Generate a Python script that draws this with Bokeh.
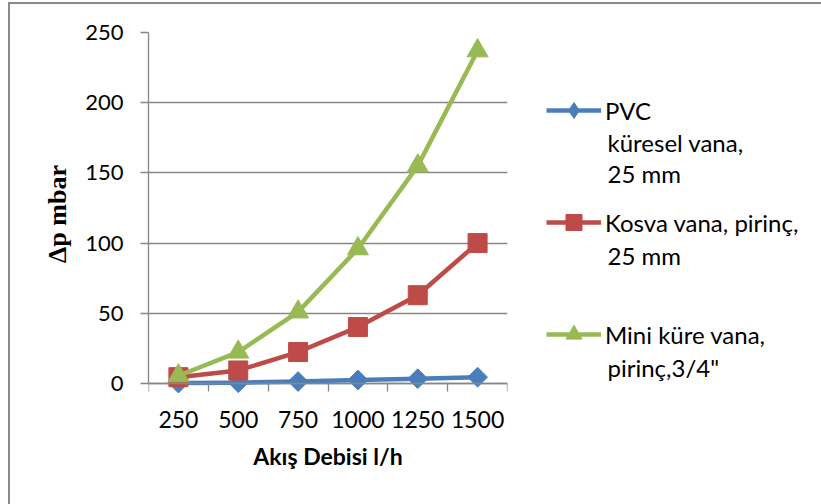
import math

from bokeh.embed import file_html
from bokeh.layouts import row
from bokeh.models import (FixedTicker, Label, Legend, LegendItem, LinearAxis,
                          Range1d)
from bokeh.plotting import figure
from bokeh.resources import INLINE

# Flow rates (l/h) and pressure drop (mbar) for three valves
flows = ["250", "500", "750", "1000", "1250", "1500"]
pvc_ball = [0.3, 0.6, 1.4, 2.5, 3.4, 4.5]
kosva_brass = [4.5, 9.3, 22.4, 40.2, 62.9, 100.0]
mini_ball_brass = [5.5, 22.4, 51.0, 96.0, 155.0, 237.0]

y_ticks = [0, 50, 100, 150, 200, 250]

series = [
    (["PVC", "küresel vana,", "25 mm"], pvc_ball, "#4A7EBB", "diamond"),
    (["Kosva vana, pirinç,", "25 mm"], kosva_brass, "#BE4B48", "square"),
    (["Mini küre vana,", "pirinç,3/4\""], mini_ball_brass, "#98B954", "triangle"),
]

FONT = "Lato"
GRAY = "#868686"
BORDER_TOP, BORDER_BOTTOM = 28, 109

# category slots are one unit wide; points sit at the middle of each slot
xs = [i + 0.5 for i in range(len(flows))]
labels_at = {x: f for x, f in zip(xs, flows)}

# ---------------- chart ----------------
p = figure(
    width=500, height=500,
    output_backend="svg", toolbar_location=None,
    x_range=Range1d(0, len(flows)),
    y_range=Range1d(-8.55, 250),
    min_border_left=138, min_border_right=3,
    min_border_top=BORDER_TOP, min_border_bottom=BORDER_BOTTOM,
)
p.outline_line_color = None
p.background_fill_color = "white"
p.border_fill_color = "white"

# axis line at zero with tick marks at slot boundaries
xa = p.xaxis[0]
xa.fixed_location = 0
xa.ticker = FixedTicker(ticks=[], minor_ticks=list(range(len(flows) + 1)))
xa.major_tick_out = 0
xa.major_tick_in = 0
xa.minor_tick_out = 8
xa.minor_tick_in = 0
xa.minor_tick_line_color = GRAY
xa.minor_tick_line_width = 1.3
xa.axis_line_color = GRAY
xa.axis_line_width = 1.3
xa.major_label_standoff = 0

# category labels and axis title
xl = LinearAxis(
    ticker=FixedTicker(ticks=xs),
    major_label_overrides=labels_at,
    axis_line_color=None,
    major_tick_line_color=None, minor_tick_line_color=None,
    major_tick_out=0, major_tick_in=0,
    major_label_standoff=15,
    major_label_text_font=FONT, major_label_text_font_size="23px",
    major_label_text_color="black",
    axis_label="Akış Debisi l/h",
    axis_label_text_font=FONT, axis_label_text_font_style="bold",
    axis_label_text_font_size="23px", axis_label_text_color="black",
    axis_label_standoff=11,
)
p.add_layout(xl, "below")

ya = p.yaxis[0]
ya.bounds = (0, 250)
ya.ticker = FixedTicker(ticks=y_ticks)
ya.minor_tick_line_color = None
ya.major_tick_out = 8
ya.major_tick_in = 0
ya.major_tick_line_color = GRAY
ya.major_tick_line_width = 1.3
ya.axis_line_color = GRAY
ya.axis_line_width = 1.3
ya.major_label_standoff = 17
ya.major_label_text_font = FONT
ya.major_label_text_font_size = "22px"
ya.major_label_text_color = "black"
ya.axis_label = "Δp mbar"
ya.axis_label_text_font = "Liberation Serif"
ya.axis_label_text_font_style = "bold"
ya.axis_label_text_font_size = "26px"
ya.axis_label_text_color = "black"
ya.axis_label_standoff = 10

p.xgrid.grid_line_color = None
p.ygrid.ticker = FixedTicker(ticks=y_ticks)
p.ygrid.bounds = (0, 250)
p.ygrid.grid_line_color = GRAY
p.ygrid.grid_line_width = 1.3


def add_series(fig, x, y, color, kind, swatch=False, **kw):
    ln = fig.line(x, y, line_color=color, line_width=4.5, line_join="round", **kw)
    if kind == "diamond":
        if swatch:
            mk = fig.scatter(x, y, marker="diamond", size=21,
                             fill_color=color, line_color=color, **kw)
        else:
            mk = fig.scatter(x, y, marker="square", size=14, angle=math.pi / 4,
                             fill_color=color, line_color=color, **kw)
    elif kind == "square":
        mk = fig.scatter(x, y, marker="square", size=19,
                         fill_color=color, line_color=color, **kw)
    else:
        mk = fig.scatter(x, y, marker="triangle", size=21,
                         fill_color=color, line_color=color, **kw)
    return ln, mk


for label_lines, vals, color, kind in series:
    add_series(p, xs, vals, color, kind)

# ---------------- legend panel ----------------
lg = figure(
    width=311, height=500,
    output_backend="svg", toolbar_location=None,
    x_range=Range1d(0, 1), y_range=Range1d(0, 1),
    x_axis_type=None, y_axis_type=None,
    min_border_left=0, min_border_right=0,
    min_border_top=BORDER_TOP, min_border_bottom=BORDER_BOTTOM,
)
lg.outline_line_color = None
lg.xgrid.visible = False
lg.ygrid.visible = False

# swatch renderers carry the series data on a range kept out of view;
# only their legend glyphs are seen
lg.extra_x_ranges = {"swatch": Range1d(-100, -99)}
items = []
for label_lines, vals, color, kind in series:
    ln, mk = add_series(lg, xs, vals, color, kind, swatch=True, x_range_name="swatch")
    items.append(LegendItem(label=label_lines[0], renderers=[ln, mk]))

legend = Legend(
    items=items,
    location=(36, 41),
    orientation="vertical",
    glyph_width=55, glyph_height=40,
    spacing=72, padding=0, margin=0,
    label_standoff=4,
    label_text_font=FONT, label_text_font_size="24px",
    label_text_color="black",
    border_line_color=None, background_fill_alpha=0,
)
lg.add_layout(legend, "center")

# wrapped continuation lines of the legend entries (middle of text, px from frame bottom)
extra_lines = [
    ("küresel vana,", 253), ("25 mm", 222),
    ("25 mm", 140),
    ("pirinç,3/4\"", 28),
]
for txt, yy in extra_lines:
    lg.add_layout(Label(x=97, y=yy, x_units="screen", y_units="screen",
                        text=txt, text_font=FONT, text_font_size="24px",
                        text_color="black", text_baseline="middle"))

layout = row(
    p, lg,
    margin=(2, 0, 0, 8),
    styles={"border-left": "2px solid #8a8a8a", "border-top": "2px solid #8a8a8a"},
)

open("out.html", "w").write(file_html(layout, INLINE))
